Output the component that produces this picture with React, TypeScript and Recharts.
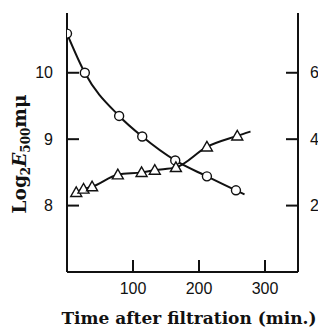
import React from 'react';
import { ComposedChart, Line, XAxis, YAxis, Customized } from 'recharts';

const xTicks = [100, 200, 300];
const leftTicks = [8, 9, 10];
const rightTicks = [2, 4, 6];

const circleTimes = [0, 27, 79, 114, 164, 212, 256, 269];
const circleValues = [10.59, 10.0, 9.35, 9.04, 8.68, 8.44, 8.23, 8.17];
const circleMarked = [true, true, true, true, true, true, true, false];

const triTimes = [14, 25, 38, 77, 113, 133, 165, 212, 258, 278];
const triValues = [2.4, 2.5, 2.57, 2.93, 3.0, 3.07, 3.15, 3.77, 4.1, 4.23];
const triMarked = [true, true, true, true, true, true, true, true, true, false];

const xLabel = 'Time after filtration (min.)';

const circleData = circleTimes.map((t, i) => ({ t, v: circleValues[i], m: circleMarked[i] }));
const triData = triTimes.map((t, i) => ({ t, v: triValues[i], m: triMarked[i] }));

const CircleDot = (props: any) => {
  const { cx, cy, payload, index } = props;
  if (!payload || !payload.m) return <g key={`c${index}`} />;
  return <circle key={`c${index}`} cx={cx} cy={cy} r={4.5} fill="#fff" stroke="#111" strokeWidth={1.4} />;
};

const TriDot = (props: any) => {
  const { cx, cy, payload, index } = props;
  if (!payload || !payload.m) return <g key={`t${index}`} />;
  const s = 5.5;
  const pts = `${cx},${cy - s} ${cx - s},${cy + s * 0.75} ${cx + s},${cy + s * 0.75}`;
  return <polygon key={`t${index}`} points={pts} fill="#fff" stroke="#111" strokeWidth={1.4} />;
};

const serif = "'DejaVu Serif', 'Liberation Serif', serif";

const Labels = () => (
  <g>
    <text
      transform="translate(18,146) rotate(-90)"
      textAnchor="middle"
      fontFamily={serif}
      fontWeight="bold"
      fontSize={18.5}
      fill="#111"
    >
      <tspan>Log</tspan>
      <tspan fontSize={12} dy={4}>2</tspan>
      <tspan fontStyle="italic" dy={-4}>E</tspan>
      <tspan fontSize={12} dy={4}>500</tspan>
      <tspan dy={-4}>mμ</tspan>
    </text>
    <text
      x={181}
      y={316}
      textAnchor="middle"
      fontFamily={serif}
      fontWeight="bold"
      fontSize={17}
      fill="#111"
    >
      {xLabel}
    </text>
  </g>
);

const tickStyle = { fontFamily: "'Liberation Sans', Arial, sans-serif", fontSize: 16, fill: '#111' };

export default function App() {
  return (
    <ComposedChart width={326} height={333} margin={{ top: 5, right: 0, bottom: 0, left: 0 }}>
      <XAxis
        type="number"
        dataKey="t"
        domain={[0, 350]}
        ticks={xTicks}
        allowDataOverflow
        height={69}
        tickSize={-12}
        tickMargin={23}
        tick={tickStyle}
        axisLine={{ stroke: '#111', strokeWidth: 2 }}
        tickLine={{ stroke: '#111', strokeWidth: 2 }}
      />
      <YAxis
        yAxisId="left"
        type="number"
        domain={[7, 10.9]}
        ticks={leftTicks}
        allowDataOverflow
        width={59}
        tickSize={-12}
        tickMargin={26}
        tick={tickStyle}
        axisLine={{ stroke: '#111', strokeWidth: 2 }}
        tickLine={{ stroke: '#111', strokeWidth: 2 }}
      />
      <YAxis
        yAxisId="right"
        orientation="right"
        type="number"
        domain={[0, 7.8]}
        ticks={rightTicks}
        allowDataOverflow
        width={36}
        tickSize={-12}
        tickMargin={24}
        tick={{ ...tickStyle, textAnchor: 'start' }}
        axisLine={{ stroke: '#111', strokeWidth: 2 }}
        tickLine={{ stroke: '#111', strokeWidth: 2 }}
      />
      <Line
        yAxisId="left"
        data={circleData}
        dataKey="v"
        type="monotone"
        stroke="#111"
        strokeWidth={2}
        dot={CircleDot}
        activeDot={false}
        isAnimationActive={false}
      />
      <Line
        yAxisId="right"
        data={triData}
        dataKey="v"
        type="monotone"
        stroke="#111"
        strokeWidth={2}
        dot={TriDot}
        activeDot={false}
        isAnimationActive={false}
      />
      <Customized component={Labels} />
    </ComposedChart>
  );
}
